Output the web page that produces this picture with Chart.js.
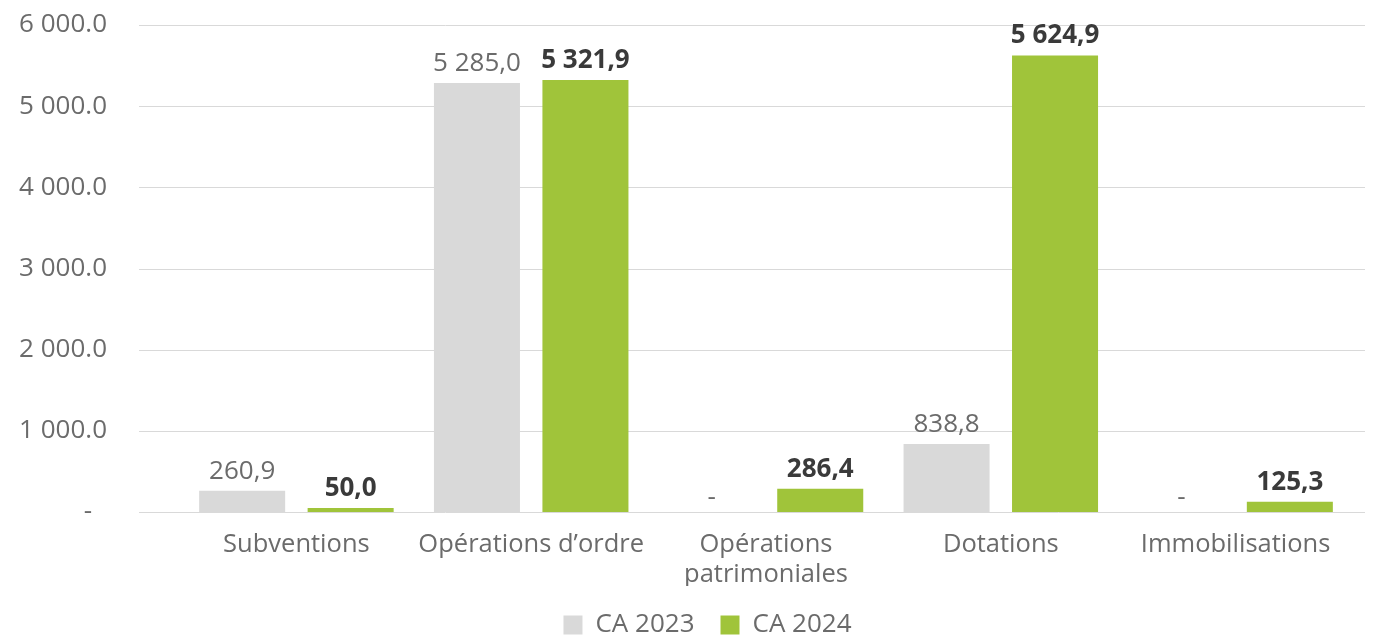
<!DOCTYPE html>
<html lang="fr">
<head>
<meta charset="utf-8">
<script src="https://cdn.jsdelivr.net/npm/chart.js@4/dist/chart.umd.min.js"></script>
<style>
  html, body { margin: 0; padding: 0; background: #fff; }
  #wrap { width: 1380px; height: 638px; }
</style>
</head>
<body>
<div id="wrap"><canvas id="myChart"></canvas></div>
<script>
const categories = ['Subventions', 'Opérations d’ordre', ['Opérations', 'patrimoniales'], 'Dotations', 'Immobilisations'];
const ca2023 = [260.9, 5285.0, 0, 838.8, 0];
const ca2024 = [50.0, 5321.9, 286.4, 5624.9, 125.3];
const seriesNames = ['CA 2023', 'CA 2024'];
const yTicks = [0, 1000, 2000, 3000, 4000, 5000, 6000];

const FONT = "'Open Sans', sans-serif";
const TEXT = '#6b6b6b';

function spaced(intPart) {
  return intPart.replace(/\B(?=(\d{3})+(?!\d))/g, ' ');
}
// 5 285,0 style for the bar labels
function fmtValue(v) {
  if (v === 0) return '-';
  const [i, d] = v.toFixed(1).split('.');
  return spaced(i) + ',' + d;
}
// 6 000.0 style for the axis, zero shown as a dash
function fmtTick(v) {
  if (v === 0) return '-\u2007';
  const [i, d] = v.toFixed(1).split('.');
  return spaced(i) + '.' + d;
}

// horizontal grid drawn a bit wider than the bar area
const gridLines = {
  id: 'gridLines',
  beforeDatasetsDraw(chart) {
    const { ctx, chartArea, scales } = chart;
    ctx.save();
    ctx.strokeStyle = '#d9d9d9';
    ctx.lineWidth = 1;
    yTicks.forEach(v => {
      const y = Math.round(scales.y.getPixelForValue(v)) + 0.5;
      ctx.beginPath();
      ctx.moveTo(chartArea.left - 40, y);
      ctx.lineTo(chartArea.right + 12, y);
      ctx.stroke();
    });
    ctx.restore();
  }
};

// value labels above each bar
const barLabels = {
  id: 'barLabels',
  afterDatasetsDraw(chart) {
    const { ctx } = chart;
    ctx.save();
    ctx.textAlign = 'center';
    ctx.textBaseline = 'alphabetic';
    chart.data.datasets.forEach((ds, di) => {
      const meta = chart.getDatasetMeta(di);
      ctx.font = (di === 1 ? 'bold ' : '') + '26px ' + FONT;
      ctx.fillStyle = di === 1 ? '#3a3a3a' : TEXT;
      meta.data.forEach((bar, i) => {
        const gap = ds.data[i] === 0 ? 7 : 12;
        ctx.fillText(fmtValue(ds.data[i]), bar.x, bar.y - gap);
      });
    });
    ctx.restore();
  }
};

// legend sits a little right of the canvas centre
const legendShift = {
  id: 'legendShift',
  afterLayout(chart) {
    chart.legend.left += 22;
    chart.legend.right += 22;
  }
};

let ctx = document.getElementById('myChart').getContext('2d');
let chart = new Chart(ctx, {
  type: 'bar',
  data: {
    labels: categories,
    datasets: [{
      label: seriesNames[0],
      backgroundColor: '#d9d9d9',
      data: ca2023,
    }, {
      label: seriesNames[1],
      backgroundColor: '#a0c43a',
      data: ca2024,
    }]
  },
  options: {
    responsive: true,
    maintainAspectRatio: false,
    animation: false,
    categoryPercentage: 0.924,
    barPercentage: 0.793,
    layout: { padding: { left: 18, right: 27, top: 25, bottom: -10 } },
    plugins: {
      tooltip: { enabled: false },
      legend: {
        position: 'bottom',
        labels: {
          boxWidth: 19,
          boxHeight: 19,
          padding: 26,
          color: TEXT,
          font: { family: FONT, size: 26 }
        }
      }
    },
    scales: {
      x: {
        afterFit(scale) { scale.height = 74; },
        grid: { display: false },
        border: { display: false },
        ticks: {
          color: TEXT,
          padding: 10,
          font: { family: FONT, size: 25.5, lineHeight: 1.18 }
        }
      },
      y: {
        min: 0,
        max: 6000,
        afterFit(scale) {
          scale.width = 161;
          scale.paddingTop = 14;
          scale.paddingBottom = 14;
        },
        afterBuildTicks(scale) { scale.ticks = yTicks.map(v => ({ value: v })); },
        grid: { display: false, drawTicks: false },
        border: { display: false },
        ticks: {
          color: TEXT,
          padding: 72,
          font: { family: FONT, size: 26 },
          callback: v => fmtTick(v)
        }
      }
    }
  },
  plugins: [gridLines, barLabels, legendShift]
});
</script>
</body>
</html>
